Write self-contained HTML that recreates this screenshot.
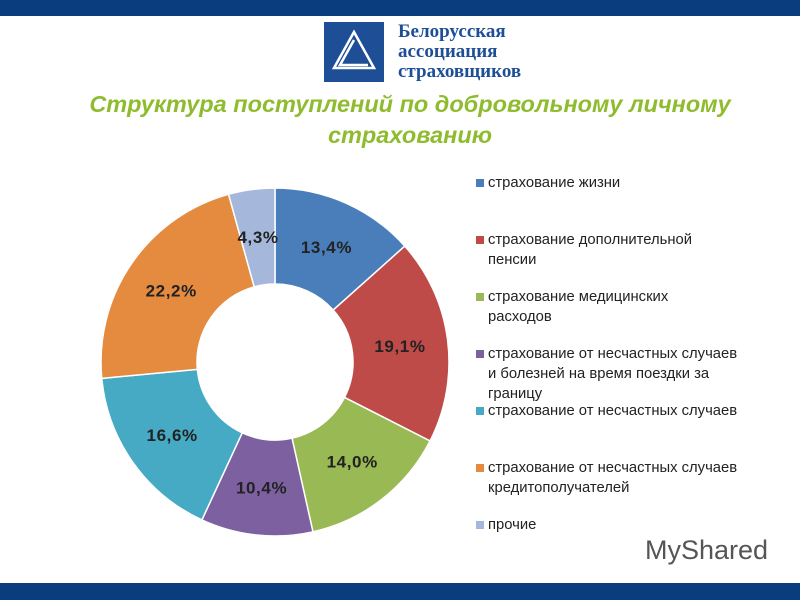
<!DOCTYPE html>
<html><head><meta charset="utf-8"><style>
body{margin:0;width:800px;height:600px;background:#fff;position:relative;overflow:hidden;font-family:"Liberation Sans","DejaVu Sans",sans-serif}
.bar{position:absolute;left:0;width:800px;background:#0a3d7e}
.title{position:absolute;left:0;width:820px;top:89px;text-align:center;color:#8fbc2e;font-weight:bold;font-style:italic;font-size:23.5px;line-height:31px}
.leg{position:absolute;left:488px;font-size:14.8px;line-height:20px;color:#222;width:300px;white-space:pre-line}
.leg i{position:absolute;left:-12px;top:6px;width:8px;height:8px}
</style></head><body>
<div class="bar" style="top:0;height:16px"></div>
<div class="bar" style="top:583px;height:17px"></div>
<div style="position:absolute;left:324px;top:22px;width:60px;height:60px;background:#1e4f96">
<svg width="60" height="60"><g fill="none" stroke="#fff" stroke-width="2.5"><path d="M30 10 L10 46 L50 46 Z"/><path d="M30 18 L16 43 L44 43"/></g></svg></div>
<div style="position:absolute;left:398px;top:22px;font-family:'Liberation Serif',serif;font-weight:bold;font-size:19px;line-height:20px;color:#1e4f96">Белорусская<br>ассоциация<br>страховщиков</div>
<div class="title">Структура поступлений по добровольному личному<br>страхованию</div>
<svg id="chart" width="800" height="600" style="position:absolute;left:0;top:0"></svg>
<div id="legend"></div>
<div style="position:absolute;left:645px;top:535px;font-size:27px;color:#555">MyShared</div>
<script>
const categories=["страхование жизни","страхование дополнительной\nпенсии","страхование медицинских\nрасходов","страхование от несчастных случаев\nи болезней на время поездки за\nграницу","страхование от несчастных случаев","страхование от несчастных случаев\nкредитополучателей","прочие"];
const values=[13.4,19.1,14.0,10.4,16.6,22.2,4.3];
const labels=["13,4%","19,1%","14,0%","10,4%","16,6%","22,2%","4,3%"];
const colors=["#4a7ebb","#be4b48","#98b954","#7d60a0","#46aac5","#e48b3f","#a5b8dc"];
const legendTops=[173,230,287,344,401,458,515];
const cx=275,cy=362,R=174,r=78,ns="http://www.w3.org/2000/svg";
const svg=document.getElementById('chart');
const total=values.reduce((a,b)=>a+b,0);
function pt(a,rad){return [cx+rad*Math.sin(a),cy-rad*Math.cos(a)];}
let acc=0;
values.forEach((v,i)=>{
 const a0=acc/total*2*Math.PI;acc+=v;const a1=acc/total*2*Math.PI;
 const lg=(a1-a0)>Math.PI?1:0;
 const [x0,y0]=pt(a0,R),[x1,y1]=pt(a1,R),[x2,y2]=pt(a1,r),[x3,y3]=pt(a0,r);
 const p=document.createElementNS(ns,'path');
 p.setAttribute('d',`M${x0} ${y0} A${R} ${R} 0 ${lg} 1 ${x1} ${y1} L${x2} ${y2} A${r} ${r} 0 ${lg} 0 ${x3} ${y3} Z`);
 p.setAttribute('fill',colors[i]);p.setAttribute('stroke','#fff');p.setAttribute('stroke-width','1.5');
 
 
 svg.appendChild(p);
 const [tx,ty]=pt((a0+a1)/2,(R+r)/2);
 const t=document.createElementNS(ns,'text');
 t.setAttribute('x',tx);t.setAttribute('y',ty+6);t.setAttribute('text-anchor','middle');
 t.setAttribute('font-size','17');t.setAttribute('font-weight','bold');t.setAttribute('fill','#222');
 t.setAttribute('letter-spacing','0.6');
 t.setAttribute('font-family','Liberation Sans, sans-serif');
 t.textContent=labels[i];
 
 
 svg.appendChild(t);
});
const leg=document.getElementById('legend');
categories.forEach((c,i)=>{
 const d=document.createElement('div');d.className='leg';d.style.top=legendTops[i]+'px';
 d.innerHTML='<i style="background:'+colors[i]+'"></i>'+c;
 
 
 leg.appendChild(d);
});
</script>
</body></html>
